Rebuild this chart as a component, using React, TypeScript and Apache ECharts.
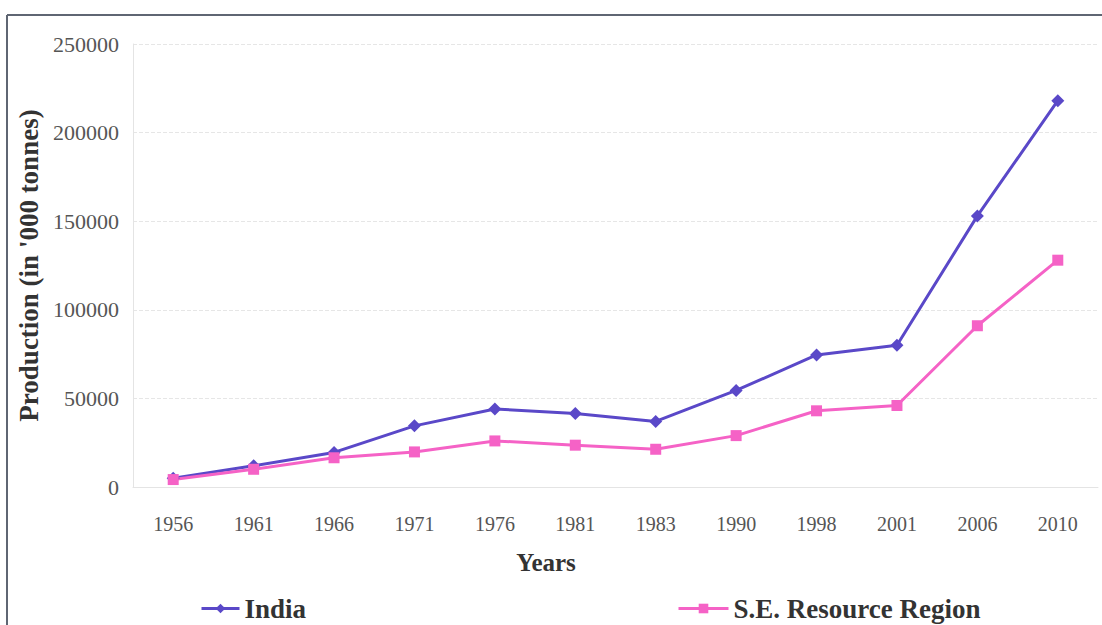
import React, { useEffect, useRef } from "react";
import * as echarts from "echarts";

const years = ["1956", "1961", "1966", "1971", "1976", "1981", "1983", "1990", "1998", "2001", "2006", "2010"];
const india = [5000, 12000, 19500, 34500, 44000, 41500, 37000, 54500, 74500, 80000, 153000, 218000];
const seRegion = [4200, 10000, 16500, 19800, 26000, 23600, 21300, 29000, 43000, 46000, 91000, 128000];
const yTicks = { min: 0, max: 250000, interval: 50000 };

const SERIF = "'Liberation Serif', 'DejaVu Serif', 'Times New Roman', serif";

export default function App() {
  const ref = useRef<HTMLDivElement>(null);
  useEffect(() => {
    if (!ref.current) return;
    const chart = echarts.init(ref.current, null, { renderer: "svg" });
    chart.setOption({
      animation: false,
      backgroundColor: "#ffffff",
      grid: { left: 133, right: 4, top: 44, bottom: 138, containLabel: false },
      xAxis: {
        type: "category",
        data: years,
        boundaryGap: true,
        axisLine: { show: true, lineStyle: { color: "#e4e4e4", width: 1 } },
        axisTick: { show: false },
        axisLabel: { fontFamily: SERIF, fontSize: 20, color: "#555", margin: 27 },
        splitLine: { show: false },
      },
      yAxis: {
        type: "value",
        min: yTicks.min,
        max: yTicks.max,
        interval: yTicks.interval,
        name: "Production (in '000 tonnes)",
        nameLocation: "middle",
        nameGap: 90,
        nameTextStyle: { fontFamily: SERIF, fontSize: 27, fontWeight: "bold", color: "#333" },
        axisLine: { show: true, lineStyle: { color: "#e4e4e4", width: 1 } },
        axisTick: { show: false },
        axisLabel: {
          fontFamily: SERIF,
          fontSize: 22,
          color: "#555",
          margin: 14,
          formatter: (v: number) => String(v),
        },
        splitLine: { show: true, lineStyle: { color: "#e6e6e6", type: "dashed", width: 1 } },
      },
      legend: [
        {
          data: ["India"],
          left: 195,
          top: 590,
          itemWidth: 38,
          itemHeight: 12,
          itemGap: 8,
          lineStyle: { width: 3 },
          textStyle: { fontFamily: SERIF, fontSize: 27, fontWeight: "bold", color: "#333" },
        },
        {
          data: ["S.E. Resource Region"],
          left: 672,
          top: 590,
          itemWidth: 50,
          itemHeight: 12,
          itemGap: 8,
          lineStyle: { width: 3 },
          textStyle: { fontFamily: SERIF, fontSize: 27, fontWeight: "bold", color: "#333" },
        },
      ],
      graphic: [
        { type: "line", shape: { x1: 7, y1: 15, x2: 1102, y2: 15 }, style: { stroke: "#5f6673", lineWidth: 2 } },
        { type: "line", shape: { x1: 7, y1: 15, x2: 7, y2: 625 }, style: { stroke: "#5f6673", lineWidth: 2 } },
        {
          type: "text",
          x: 546,
          y: 562,
          style: {
            text: "Years",
            fontFamily: SERIF,
            fontSize: 25,
            fontWeight: "bold",
            fill: "#333",
            align: "center",
            verticalAlign: "middle",
          },
        },
      ],
      series: [
        {
          name: "India",
          type: "line",
          data: india,
          symbol: "diamond",
          symbolSize: 13,
          lineStyle: { color: "#5a48c8", width: 3 },
          itemStyle: { color: "#5a48c8" },
        },
        {
          name: "S.E. Resource Region",
          type: "line",
          data: seRegion,
          symbol: "rect",
          symbolSize: 11,
          lineStyle: { color: "#f562c6", width: 3 },
          itemStyle: { color: "#f562c6" },
        },
      ],
    });
    return () => chart.dispose();
  }, []);
  return <div ref={ref} style={{ position: "absolute", left: 0, top: 0, width: 1102, height: 625 }} />;
}
